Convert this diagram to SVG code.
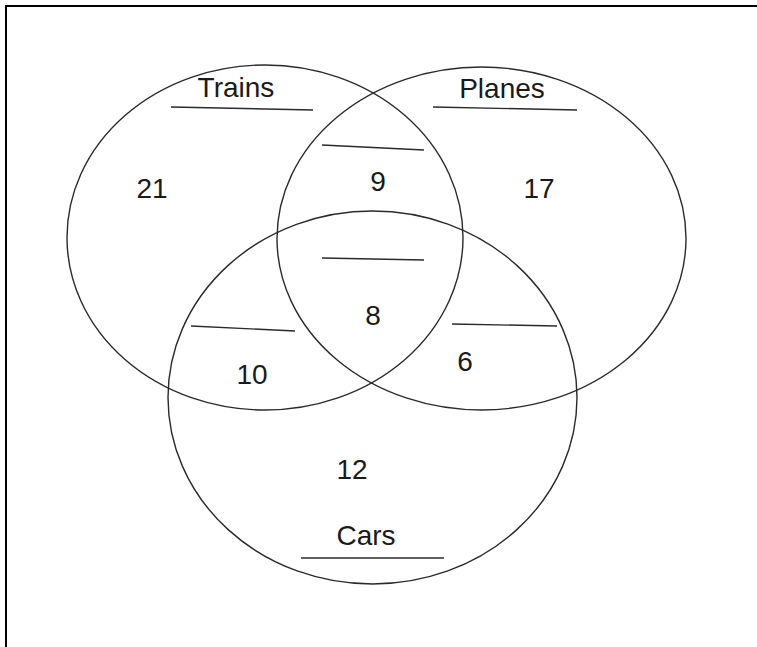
<svg xmlns="http://www.w3.org/2000/svg" width="757" height="647" viewBox="0 0 757 647">
<style>
.set{fill:none;stroke:#2a2a2a;stroke-width:1.4}
.ul{stroke:#2a2a2a;stroke-width:1.4;fill:none}
.t{font-family:"Liberation Sans",Arial,sans-serif;font-size:28px;fill:#1a1a1a;text-anchor:middle}
</style>
<rect width="757" height="647" fill="#fff"/>
<g id="frame">
<path d="M6,647 V6 H757" fill="none" stroke="#000" stroke-width="2"/>
</g>
<g id="trains">
<ellipse class="set" cx="265" cy="237.5" rx="198" ry="172.5"/>
<text class="t" x="236" y="97">Trains</text>
<line class="ul" x1="171" y1="107" x2="313" y2="110"/>
<text class="t" x="152" y="198">21</text>
</g>
<g id="planes">
<ellipse class="set" cx="481.5" cy="238.5" rx="204.5" ry="171.5"/>
<text class="t" x="502" y="98">Planes</text>
<line class="ul" x1="433" y1="107" x2="577" y2="110"/>
<text class="t" x="539" y="198">17</text>
</g>
<g id="cars">
<ellipse class="set" cx="372.5" cy="397.5" rx="204.5" ry="186.5"/>
<text class="t" x="352" y="479">12</text>
<text class="t" x="366" y="545">Cars</text>
<line class="ul" x1="301" y1="558" x2="444" y2="558"/>
</g>
<g id="trains-planes">
<line class="ul" x1="322" y1="145" x2="424" y2="150"/>
<text class="t" x="378" y="191">9</text>
</g>
<g id="all">
<line class="ul" x1="322" y1="258" x2="424" y2="260"/>
<text class="t" x="373" y="325">8</text>
</g>
<g id="trains-cars">
<line class="ul" x1="191" y1="326" x2="295" y2="331"/>
<text class="t" x="252" y="384">10</text>
</g>
<g id="planes-cars">
<line class="ul" x1="452" y1="324" x2="557" y2="326"/>
<text class="t" x="465" y="371">6</text>
</g>
</svg>
